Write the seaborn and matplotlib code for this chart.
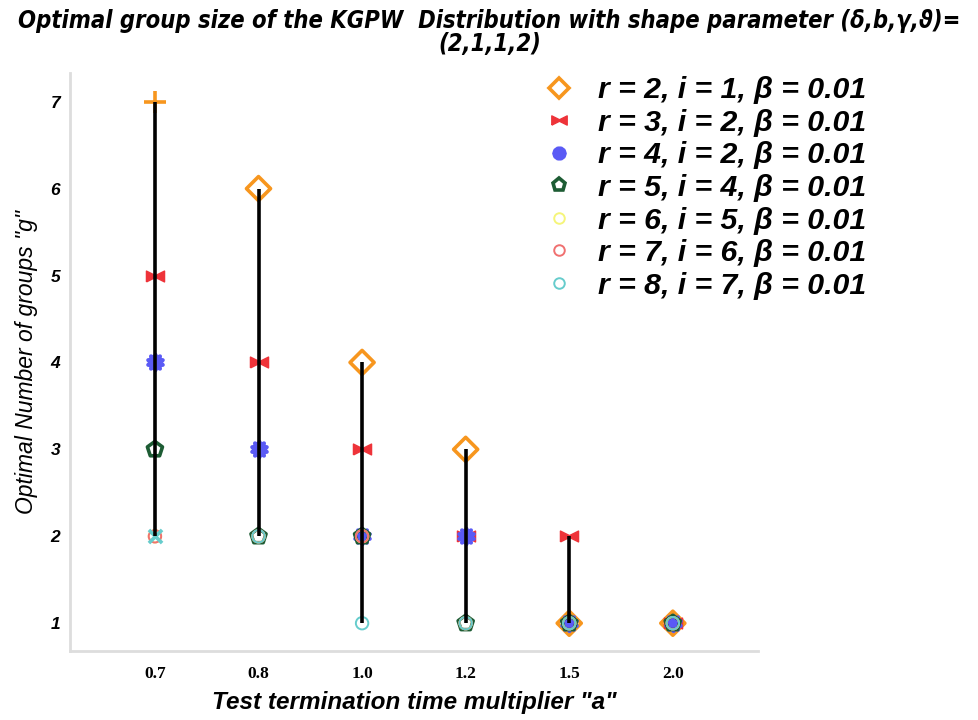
import matplotlib
matplotlib.use("Agg")
import matplotlib.pyplot as plt
from matplotlib.lines import Line2D
import seaborn as sns
import numpy as np
import pandas as pd

# ---- data ----
a_labels = ["0.7", "0.8", "1.0", "1.2", "1.5", "2.0"]
series_labels = ["r = 2, i = 1, β = 0.01", "r = 3, i = 2, β = 0.01", "r = 4, i = 2, β = 0.01",
                 "r = 5, i = 4, β = 0.01", "r = 6, i = 5, β = 0.01", "r = 7, i = 6, β = 0.01",
                 "r = 8, i = 7, β = 0.01"]
g_r2 = [7, 6, 4, 3, 1, 1]
g_r3 = [5, 4, 3, 2, 2, 1]
g_r4 = [4, 3, 2, 2, 1, 1]
g_r5 = [3, 2, 2, 1, 1, 1]
g_r6 = [2, 2, 2, 1, 1, 1]
g_r7 = [2, 2, 2, 1, 1, 1]
g_r8 = [2, 2, 1, 1, 1, 1]
values = [g_r2, g_r3, g_r4, g_r5, g_r6, g_r7, g_r8]

rows = []
for lab, vals in zip(series_labels, values):
    for i, (a, g) in enumerate(zip(a_labels, vals)):
        rows.append({"series": lab, "a": a, "pos": i, "g": g})
df = pd.DataFrame(rows)

sns.set_style("white")
plt.rcParams['font.family'] = ['Liberation Sans', 'DejaVu Sans']
for key in ["text.color", "axes.labelcolor", "xtick.color", "ytick.color"]:
    plt.rcParams[key] = "black"

fig = plt.figure(figsize=(9.79, 7.2), dpi=100)
ax = fig.add_axes([0.0715, 0.0958, 0.7025, 0.8028])

bowtie = [(-1, -0.6), (0, -0.1), (1, -0.6), (1, 0.6), (0, 0.1), (-1, 0.6), (-1, -0.6)]
styles = [
    dict(marker="D", fc="none", ec="#f7961e", lw=2.6, s=150),
    dict(marker=bowtie, fc="#ee3339", ec="#ee3339", lw=1.0, s=170),
    dict(marker=(10, 1, 0), fc="#5a5af5", ec="#5a5af5", lw=3.0, s=120),
    dict(marker="p", fc="none", ec="#1d5c34", lw=2.6, s=130),
    dict(marker="o", fc="none", ec="#f5f57a", lw=1.4, s=80),
    dict(marker="o", fc="none", ec="#f07070", lw=1.4, s=80),
    dict(marker="o", fc="none", ec="#66cccc", lw=1.4, s=80),
]
# points drawn with a different glyph in the original
override = {(0, 0): dict(marker="+", lw=2.6, s=240), (6, 0): dict(marker="x", lw=2.6, s=90)}

for k, lab in enumerate(series_labels):
    st = styles[k]
    sub = df[df.series == lab]
    normal = sub[[(k, p) not in override for p in sub.pos]]
    sns.scatterplot(data=normal, x="pos", y="g", ax=ax, marker=st["marker"], s=st["s"],
                    facecolor=st["fc"], edgecolor=st["ec"], linewidth=st["lw"], zorder=3 + k * 0.01,
                    legend=False)
    for (kk, p), o in override.items():
        if kk == k:
            pt = sub[sub.pos == p]
            ax.scatter(pt.pos, pt.g, marker=o["marker"], s=o["s"], color=st["ec"],
                       linewidths=o["lw"], zorder=3 + k * 0.01)

# drop lines (high-low) derived from data
rng = df.groupby("pos")["g"].agg(["min", "max"]).reset_index()
ax.vlines(rng["pos"], rng["min"], rng["max"], color="black", lw=2.6, zorder=5)

ax.set_xlim(-0.82, 5.82)
ax.set_ylim(0.68, 7.33)
ax.set_xticks(range(len(a_labels)))
ax.set_xticklabels(a_labels, family=['Liberation Serif'], fontweight="bold", fontsize=12.5)
ax.set_yticks(range(1, 8))
ax.set_yticklabels([str(v) for v in range(1, 8)], fontweight="bold", style="italic", fontsize=12.5,
                   family=['Liberation Sans', 'DejaVu Sans'])
ax.tick_params(axis="x", direction="out", length=8, width=1.3, color="#222222", pad=3)
ax.tick_params(axis="y", direction="out", length=6, width=1.3, color="#222222", pad=1)

for s in ["top", "right"]:
    ax.spines[s].set_visible(False)
for s in ["left", "bottom"]:
    ax.spines[s].set_color("#dddddd")
    ax.spines[s].set_linewidth(2)

ax.set_xlabel('Test termination time multiplier "a"', fontsize=17.5, fontweight="bold", style="italic",
              labelpad=6, family=['Liberation Sans', 'DejaVu Sans'])
ax.set_ylabel('Optimal Number of groups "g"', fontsize=16.5, style="italic", labelpad=9,
              family=['Liberation Sans', 'DejaVu Sans'])

fig.text(0.5, 0.988, "Optimal group size of the KGPW  Distribution with shape parameter (δ,b,γ,ϑ)=\n(2,1,1,2)",
         ha="center", va="top", fontsize=17, fontweight="bold", style="italic", linespacing=0.95,
         family=['DejaVu Sans'], fontstretch="condensed")

handles = []
for k, lab in enumerate(series_labels):
    st = styles[k]
    handles.append(Line2D([], [], linestyle="none", marker=st["marker"], markersize=np.sqrt(st["s"]) * 0.85,
                          markerfacecolor=st["fc"], markeredgecolor=st["ec"], markeredgewidth=st["lw"]))
leg = fig.legend(handles, series_labels, loc="upper left", bbox_to_anchor=(0.537, 0.915),
                 frameon=False, prop=dict(size=21.8, weight="bold", style="italic",
                                          family=['Liberation Sans', 'DejaVu Sans']),
                 handletextpad=0.68, labelspacing=0.15, handlelength=1.2, borderpad=0)

fig.savefig("out.png", dpi=100)
